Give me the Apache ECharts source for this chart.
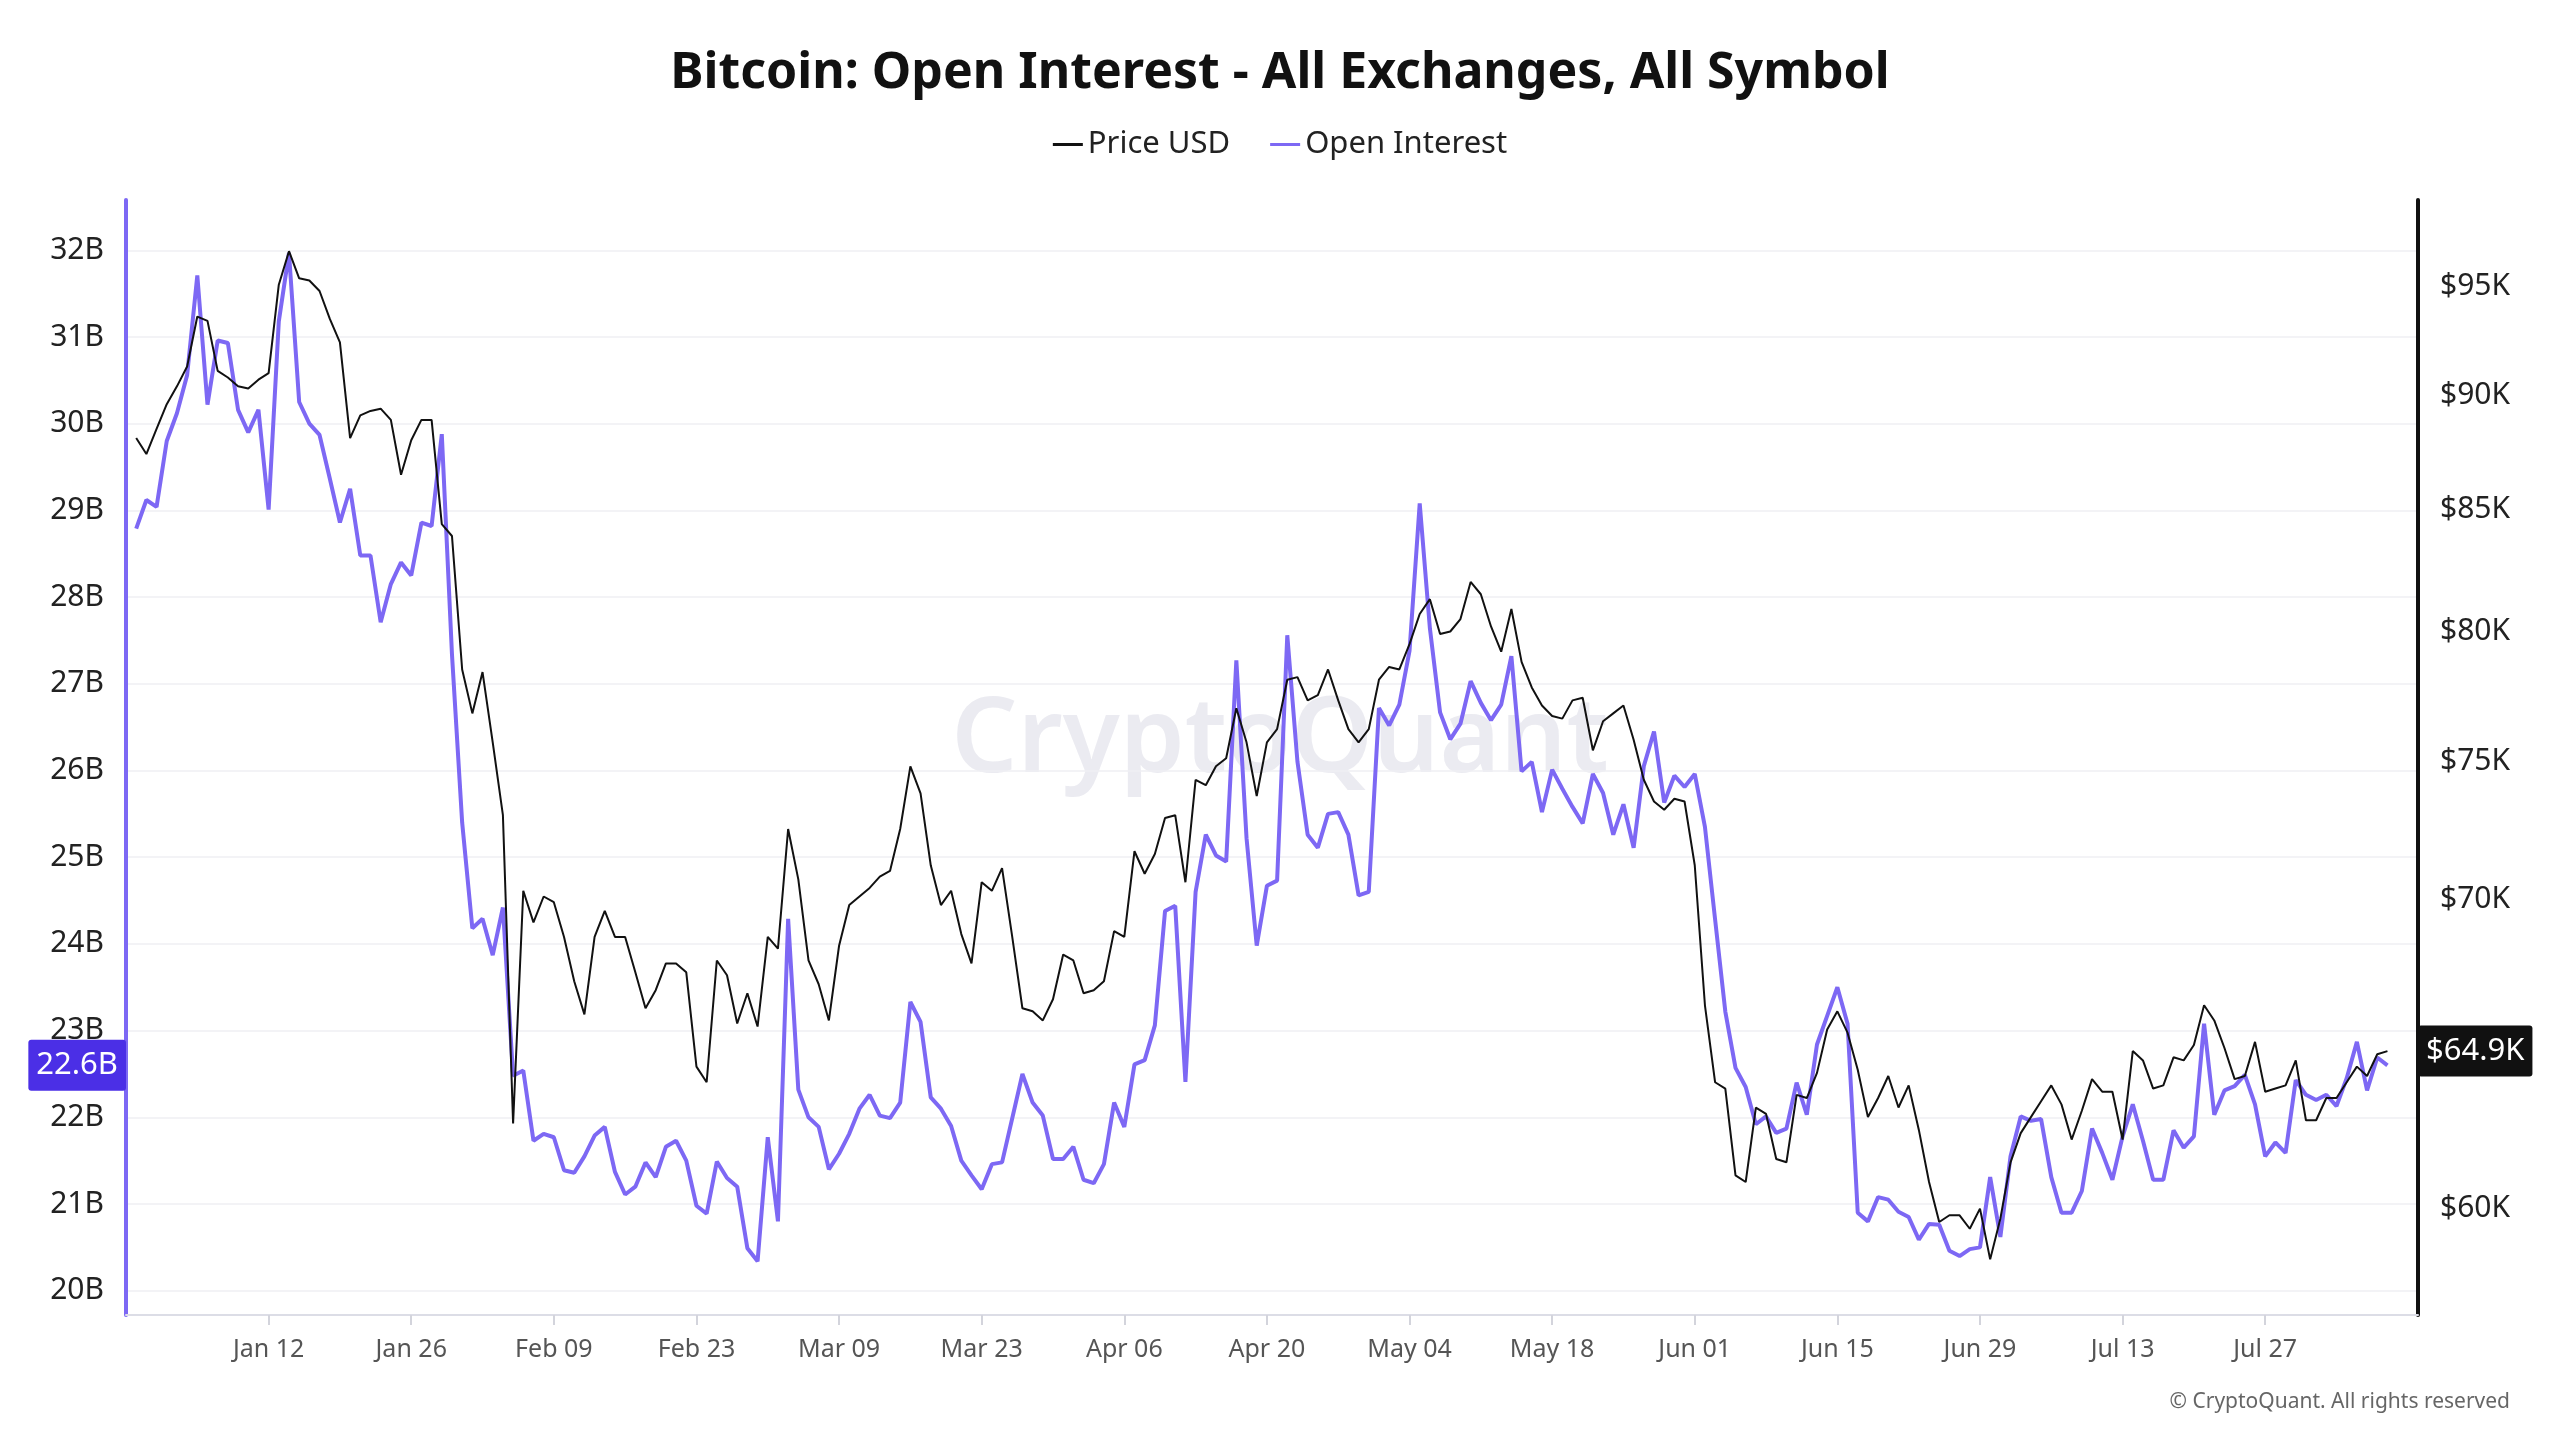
<!DOCTYPE html>
<html>
<head>
<meta charset="utf-8">
<script src="https://cdn.jsdelivr.net/npm/echarts@6/dist/echarts.min.js"></script>
<style>
  html, body { margin: 0; padding: 0; background: #fff; }
  #chart { width: 2560px; height: 1440px; }
</style>
</head>
<body>
<div id="chart"></div>
<script>
// daily series, Dec 30 → Aug 08
const startDate = '2025-12-30';
const openInterestB = [
  28.79,29.12,29.04,29.8,30.12,30.56,31.71,30.22,30.96,30.93,
  30.16,29.9,30.16,29.01,31.18,31.97,30.25,30.0,29.87,29.37,
  28.86,29.25,28.48,28.48,27.71,28.15,28.4,28.25,28.86,28.82,
  29.88,27.34,25.4,24.18,24.29,23.87,24.42,22.48,22.54,21.73,
  21.81,21.77,21.39,21.36,21.55,21.79,21.89,21.37,21.11,21.2,
  21.48,21.31,21.66,21.73,21.5,20.98,20.89,21.49,21.3,21.2,
  20.49,20.34,21.77,20.8,24.29,22.32,22.0,21.89,21.4,21.58,
  21.81,22.1,22.26,22.02,21.99,22.17,23.33,23.1,22.23,22.1,
  21.9,21.5,21.33,21.17,21.46,21.48,21.99,22.5,22.17,22.02,
  21.52,21.52,21.66,21.28,21.24,21.46,22.17,21.89,22.61,22.66,
  23.06,24.38,24.44,22.41,24.6,25.26,25.02,24.95,27.27,25.22,
  23.98,24.67,24.73,27.56,26.1,25.26,25.11,25.5,25.52,25.26,
  24.56,24.6,26.72,26.52,26.76,27.38,29.08,27.64,26.67,26.36,
  26.54,27.03,26.78,26.58,26.76,27.32,25.99,26.1,25.52,26.01,
  25.79,25.58,25.39,25.96,25.74,25.26,25.61,25.11,26.05,26.45,
  25.63,25.94,25.81,25.96,25.35,24.28,23.22,22.57,22.35,21.92,
  22.01,21.82,21.87,22.4,22.03,22.84,23.17,23.5,23.08,20.9,
  20.8,21.08,21.05,20.91,20.85,20.59,20.77,20.76,20.46,20.4,
  20.48,20.5,21.31,20.62,21.55,22.01,21.96,21.98,21.31,20.9,
  20.9,21.15,21.87,21.59,21.28,21.78,22.15,21.73,21.28,21.28,
  21.85,21.65,21.78,23.08,22.03,22.31,22.36,22.49,22.15,21.55,
  21.71,21.59,22.43,22.26,22.2,22.26,22.13,22.45,22.87,22.31,
  22.69,22.6
];
const priceK = [
  88.1,87.4,88.5,89.6,90.4,91.3,93.6,93.4,91.1,90.8,
  90.4,90.3,90.7,91.0,95.1,96.7,95.4,95.3,94.8,93.5,
  92.4,88.1,89.1,89.3,89.4,88.9,86.5,88.0,88.9,88.9,
  84.4,83.9,78.5,76.8,78.4,75.7,73.0,62.6,70.3,69.2,
  70.1,69.9,68.7,67.2,66.1,68.7,69.6,68.7,68.7,67.5,
  66.3,66.9,67.8,67.8,67.5,64.4,63.9,67.9,67.4,65.8,
  66.8,65.7,68.7,68.3,72.5,70.7,67.9,67.1,65.9,68.4,
  69.8,70.1,70.4,70.8,71.0,72.5,74.8,73.8,71.2,69.8,
  70.3,68.8,67.8,70.6,70.3,71.1,68.7,66.3,66.2,65.9,
  66.6,68.1,67.9,66.8,66.9,67.2,68.9,68.7,71.7,70.9,
  71.6,72.9,73.0,70.6,74.3,74.1,74.8,75.1,77.0,75.7,
  73.7,75.7,76.2,78.1,78.2,77.3,77.5,78.5,77.3,76.2,
  75.7,76.2,78.1,78.6,78.5,79.5,80.7,81.3,79.9,80.0,
  80.5,82.0,81.5,80.2,79.2,80.9,78.8,77.8,77.1,76.7,
  76.6,77.3,77.4,75.4,76.5,76.8,77.1,75.8,74.3,73.5,
  73.2,73.6,73.5,71.2,66.4,63.9,63.7,61.0,60.8,63.1,
  62.9,61.5,61.4,63.5,63.4,64.2,65.6,66.2,65.5,64.3,
  62.8,63.4,64.1,63.1,63.8,62.4,60.8,59.6,59.8,59.8,
  59.4,60.0,58.5,59.7,61.4,62.3,62.8,63.3,63.8,63.2,
  62.1,63.0,64.0,63.6,63.6,62.1,64.9,64.6,63.7,63.8,
  64.7,64.6,65.1,66.4,65.9,65.0,64.0,64.1,65.2,63.6,
  63.7,63.8,64.6,62.7,62.7,63.4,63.4,63.9,64.4,64.1,
  64.8,64.9
];
const oiTicks = [20, 21, 22, 23, 24, 25, 26, 27, 28, 29, 30, 31, 32];
const priceTicks = [60, 65, 70, 75, 80, 85, 90, 95];
const lastOI = 22.6;
const lastPrice = 64.9;

const MONTHS = ['Jan','Feb','Mar','Apr','May','Jun','Jul','Aug','Sep','Oct','Nov','Dec'];
function dayLabel(offset) {
  const d = new Date(startDate + 'T00:00:00Z');
  d.setUTCDate(d.getUTCDate() + offset);
  return MONTHS[d.getUTCMonth()] + ' ' + String(d.getUTCDate()).padStart(2, '0');
}
// one empty day before, three after (axis padding)
const categories = [];
for (let i = -1; i < priceK.length + 3; i++) categories.push(dayLabel(i));
const firstLabelIdx = categories.indexOf('Jan 12');
const lastDataIdx = priceK.length;
const showTick = (i) => i >= firstLabelIdx && i <= lastDataIdx && (i - firstLabelIdx) % 14 === 0;

const PURPLE = '#7d68f4';
const font = 'Noto Sans';

const chart = echarts.init(document.getElementById('chart'));
chart.setOption({
  animation: false,
  textStyle: { fontFamily: font },
  title: {
    text: 'Bitcoin: Open Interest - All Exchanges, All Symbol',
    left: 'center', top: 44,
    textStyle: { fontSize: 50, fontWeight: 'bold', color: '#111', fontFamily: font }
  },
  legend: {
    top: 124, left: 'center', itemGap: 40, itemWidth: 30, itemHeight: 3,
    icon: 'rect',
    textStyle: { fontSize: 31, color: '#222', fontFamily: font },
    data: ['Price USD', 'Open Interest']
  },
  grid: { left: 126, right: 142, top: 200, bottom: 125 },
  xAxis: {
    type: 'category', data: categories, boundaryGap: false,
    axisLine: { lineStyle: { color: '#dcdde6', width: 2 } },
    axisTick: { interval: (i) => showTick(i), length: 10, lineStyle: { color: '#d3d4dc', width: 2 } },
    axisLabel: { interval: (i) => showTick(i), color: '#555', fontSize: 25, margin: 22 },
    splitLine: { show: false }
  },
  yAxis: [
    {
      type: 'value', position: 'left', min: 19.72, max: 32.58,
      axisLine: { show: true, lineStyle: { color: PURPLE, width: 4 } },
      axisTick: { show: false, customValues: oiTicks },
      axisLabel: { customValues: oiTicks, formatter: (v) => v + 'B', color: '#222', fontSize: 30, margin: 22 },
      splitLine: { show: true, lineStyle: { color: '#efeff3', width: 1.5 } },
      axisPointer: {
        show: true, status: 'show', value: lastOI, type: 'none', triggerTooltip: false,
        label: {
          show: true, formatter: () => lastOI + 'B', backgroundColor: '#4b2fe6',
          color: '#fff', fontSize: 31, padding: [10, 8], margin: 0
        }
      }
    },
    {
      type: 'log', position: 'right', min: 56.9, max: 99.2,
      axisLine: { show: true, lineStyle: { color: '#111', width: 4 } },
      axisTick: { show: false },
      axisLabel: { customValues: priceTicks, formatter: (v) => '$' + Math.round(v) + 'K', color: '#222', fontSize: 30, margin: 22 },
      splitLine: { show: false },
      axisPointer: {
        show: true, status: 'show', value: lastPrice, type: 'none', triggerTooltip: false,
        label: {
          show: true, formatter: () => '$' + lastPrice + 'K', backgroundColor: '#111',
          color: '#fff', fontSize: 31, padding: [10, 8], margin: 0
        }
      }
    }
  ],
  series: [
    {
      name: 'Price USD', type: 'line', yAxisIndex: 1, showSymbol: false,
      data: priceK.map((v, i) => [categories[i + 1], v]),
      lineStyle: { color: '#111', width: 2 }, itemStyle: { color: '#111' }, z: 3
    },
    {
      name: 'Open Interest', type: 'line', yAxisIndex: 0, showSymbol: false,
      data: openInterestB.map((v, i) => [categories[i + 1], v]),
      lineStyle: { color: PURPLE, width: 4 }, itemStyle: { color: PURPLE }, z: 2
    }
  ],
  graphic: [
    {
      type: 'text', left: 'center', top: 690, z: 0, silent: true,
      style: { text: 'CryptoQuant', font: '600 104px "Noto Sans"', fill: 'rgba(205,205,220,0.4)' }
    },
    {
      type: 'text', right: 50, top: 1392,
      style: { text: '© CryptoQuant. All rights reserved', font: '21px "Noto Sans"', fill: '#666' }
    }
  ]
});
</script>
</body>
</html>
